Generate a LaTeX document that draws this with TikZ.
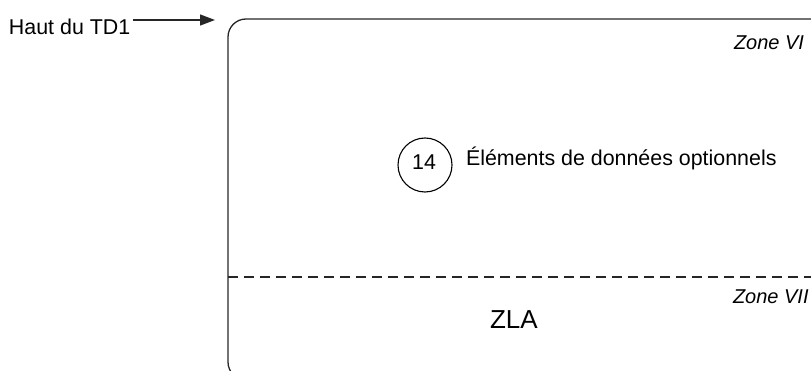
\documentclass[tikz,border=0pt]{standalone}
\usepackage{fontspec}
\setmainfont{Liberation Sans}
\usetikzlibrary{arrows.meta}
\tikzset{
  lbl/.style={inner sep=0pt, outer sep=0pt, anchor=base west, font=\fontsize{21.4}{25}\selectfont},
  zonelbl/.style={inner sep=0pt, outer sep=0pt, anchor=base west, font=\fontsize{20}{24}\selectfont\itshape},
  ln/.style={line width=1.3pt, draw=black!85},
}
\begin{document}
\begin{tikzpicture}[x=1pt,y=-1pt]
\useasboundingbox (0,0) rectangle (811,371);
\begin{scope}
\clip (0,0) rectangle (811,371);
% card outline
\draw[ln, rounded corners=18pt] (228,19) rectangle (828,380);
% separator
\draw[ln, dash pattern=on 10pt off 6pt] (228,277) -- (811,277);
% labels
\node[lbl] (haut) at (9,35) {Haut du TD1};
\coordinate (a0) at (133,20);
\coordinate (a1) at (215,20);
\draw[ln, -{Triangle[length=15pt,width=11pt]}] (a0) -- (a1);
\node[zonelbl] (z6) at (734,50) {Zone VI};
\node[zonelbl] (z7) at (733,303) {Zone VII};
\node[circle, draw, line width=1.1pt, minimum size=54pt, inner sep=0pt] (c14) at (425,165) {};
\node[lbl, anchor=base] (n14) at (424,170) {14};
\node[lbl] (elem) at (466,166) {Éléments de données optionnels};
\node[lbl, font=\fontsize{26}{30}\selectfont] (zla) at (490,328) {ZLA};
\end{scope}
\end{tikzpicture}
\end{document}
